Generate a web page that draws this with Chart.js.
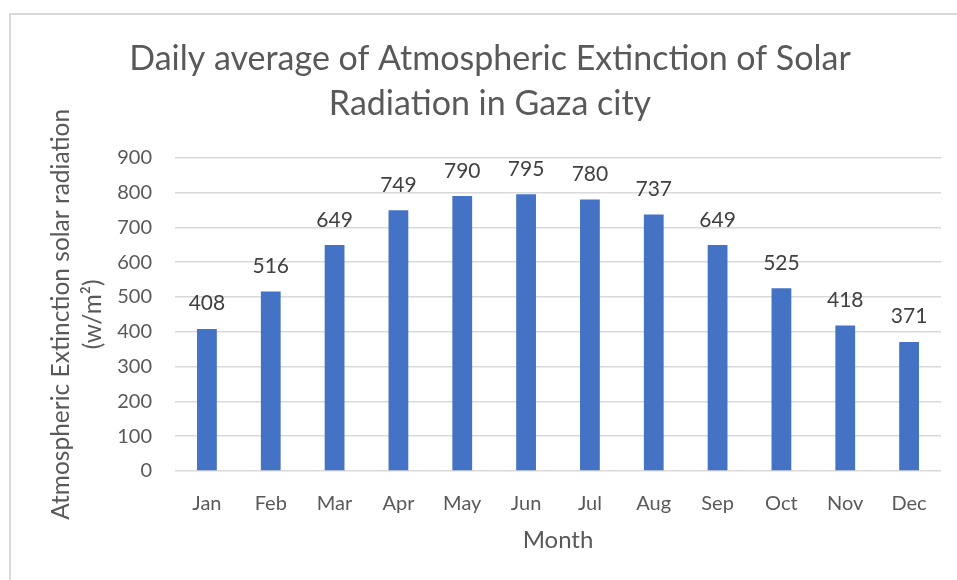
<!DOCTYPE html>
<html>
<head>
<meta charset="utf-8">
<script src="https://cdn.jsdelivr.net/npm/chart.js@4/dist/chart.umd.min.js"></script>
<style>
  html, body { margin: 0; padding: 0; background: #fff; overflow: hidden; }
  #frame {
    position: absolute; left: 9px; top: 13px;
    width: 1200px; height: 800px;
    border: 2px solid #d9d9d9; box-sizing: border-box;
  }
  #wrap { position: absolute; left: 0; top: 0; width: 941px; height: 580px; }
</style>
</head>
<body>
<div id="frame"></div>
<div id="wrap"><canvas id="chart" width="941" height="580"></canvas></div>
<script>
// Monthly daily-average extinction values (w/m²)
const months = ['Jan', 'Feb', 'Mar', 'Apr', 'May', 'Jun', 'Jul', 'Aug', 'Sep', 'Oct', 'Nov', 'Dec'];
const extinction = [408, 516, 649, 749, 790, 795, 780, 737, 649, 525, 418, 371];
const titleLines = ['Daily average of Atmospheric Extinction of Solar', 'Radiation in Gaza city'];
const yTitleLines = ['Atmospheric Extinction solar radiation', '(w/m\u00B2)'];
const xTitle = 'Month';

const FONT = 'Lato';
const GREY = '#595959';

// Writes each bar's value just above its top
const valueLabels = {
  id: 'valueLabels',
  afterDatasetsDraw(chart) {
    const ctx = chart.ctx;
    const meta = chart.getDatasetMeta(0);
    ctx.save();
    ctx.font = '21px ' + FONT;
    ctx.fillStyle = '#404040';
    ctx.textAlign = 'center';
    ctx.textBaseline = 'alphabetic';
    meta.data.forEach((bar, i) => {
      ctx.fillText(String(chart.data.datasets[0].data[i]), bar.x, bar.y - 18.5);
    });
    ctx.restore();
  }
};

new Chart(document.getElementById('chart'), {
  type: 'bar',
  data: {
    labels: months,
    datasets: [{
      data: extinction,
      backgroundColor: '#4472C4',
      borderWidth: 0,
      barPercentage: 0.62,
      categoryPercentage: 0.5
    }]
  },
  options: {
    responsive: false,
    animation: false,
    layout: { padding: { left: 39, right: 0, top: 0, bottom: 0 } },
    plugins: {
      legend: { display: false },
      tooltip: { enabled: false },
      title: {
        display: true,
        text: titleLines,
        color: GREY,
        font: { family: FONT, size: 34, weight: 'normal', lineHeight: 1.32 },
        padding: { top: 37, bottom: 31 }
      }
    },
    scales: {
      x: {
        grid: { display: false },
        border: { display: false },
        ticks: { color: GREY, font: { family: FONT, size: 20 }, padding: 13 },
        title: {
          display: true, text: xTitle, color: GREY,
          font: { family: FONT, size: 24, lineHeight: 1.2 },
          padding: { top: 0, bottom: 25 }
        },
        afterFit(scale) { scale.height = 109; }
      },
      y: {
        min: 0, max: 900,
        grid: { color: '#d9d9d9', lineWidth: 1.5, drawTicks: false },
        border: { display: false },
        ticks: { stepSize: 100, color: GREY, font: { family: FONT, size: 20 }, padding: 23 },
        title: {
          display: true, text: yTitleLines, color: GREY,
          font: { family: FONT, size: 24.5, lineHeight: 1.3 },
          padding: { top: 6, bottom: 0 }
        },
        afterFit(scale) { scale.width = 136; }
      }
    }
  },
  plugins: [valueLabels]
});
</script>
</body>
</html>
